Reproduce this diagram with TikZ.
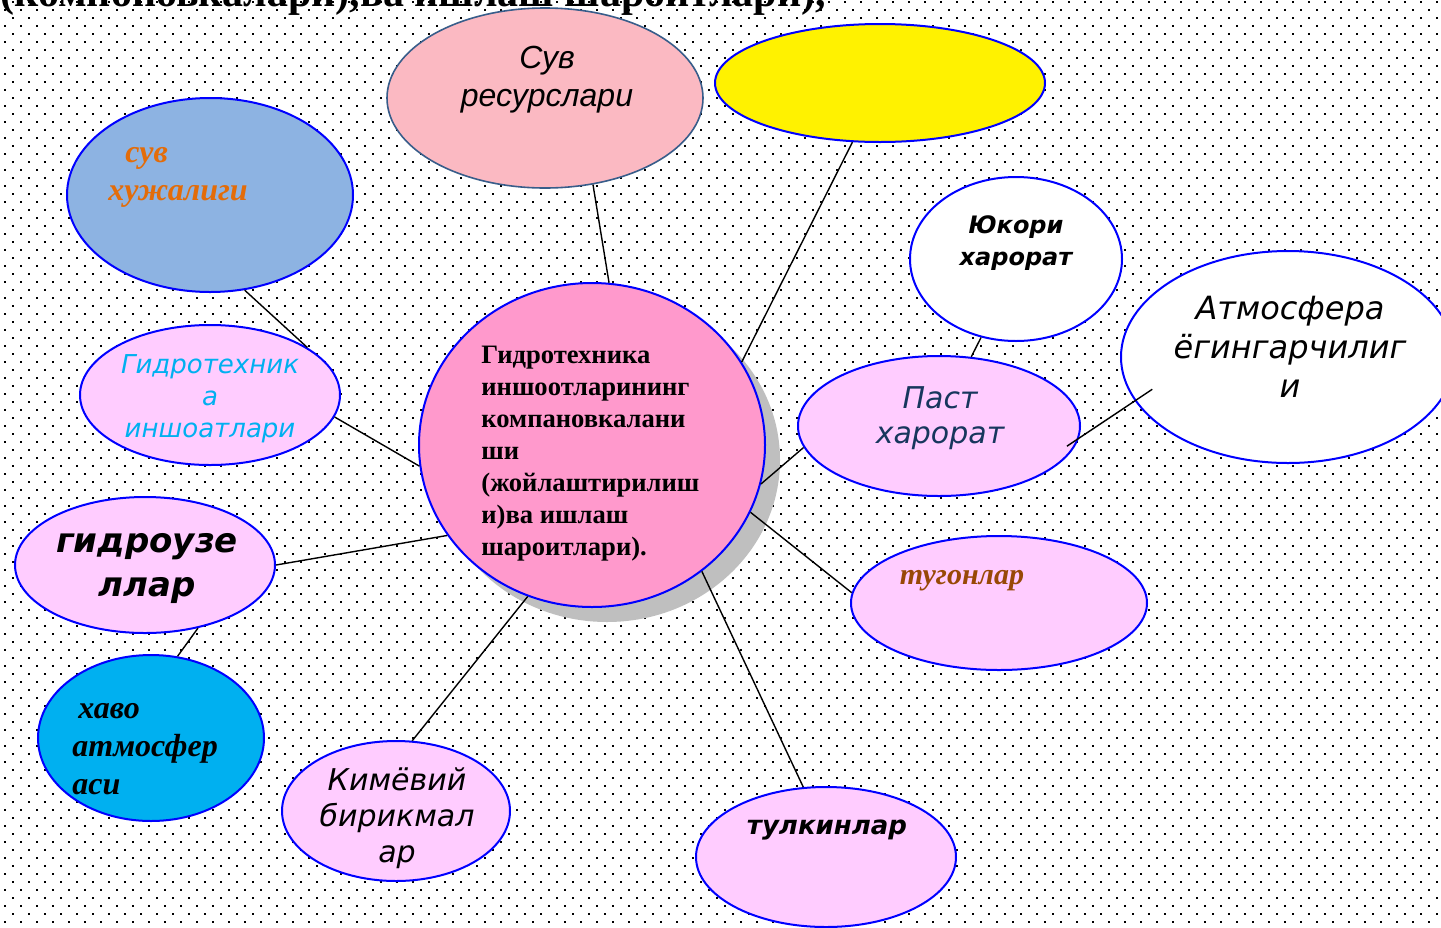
\documentclass[tikz,border=0pt]{standalone}
\usepackage{fontspec}
\setmainfont{Liberation Serif}
\setsansfont{DejaVu Sans}
\newfontfamily\arialfont{Liberation Sans}
\usetikzlibrary{shapes.geometric}
\usetikzlibrary{shadows}
\usepackage{xcolor}
\definecolor{cenpink}{RGB}{255,153,204}
\definecolor{respink}{RGB}{251,185,194}
\definecolor{resline}{RGB}{56,93,138}
\definecolor{suvblue}{RGB}{141,179,226}
\definecolor{lilac}{RGB}{255,204,255}
\definecolor{havoblue}{RGB}{0,176,240}
\definecolor{suvorange}{RGB}{227,108,9}
\definecolor{tugbrown}{RGB}{152,72,6}
\definecolor{pastnavy}{RGB}{23,54,93}

\begin{document}
\begin{tikzpicture}[x=0.5pt,y=-0.5pt,
bubble/.style={ellipse, draw=blue, line width=1pt, inner sep=0pt},
lilacbubble/.style={bubble, fill=lilac},
serifbi/.style={font=\fontsize{15}{19}\selectfont\bfseries\itshape, inner sep=0pt},
sansit/.style={font=\fontsize{15}{18}\selectfont\sffamily\itshape, inner sep=0pt, align=center},
dotrow/.style={draw=black, line width=0.9pt, dash pattern=on 0.9pt off 7.1pt},
link/.style={draw=black, line width=0.7pt}]
\useasboundingbox (0,0) rectangle (1441,927);
\clip (0,0) rectangle (1441,927);
\fill[white] (0,0) rectangle (1441,927);
\foreach \y in {2,18,...,930} \draw[dotrow] (12,\y) -- (1441,\y);
\foreach \y in {10,26,...,930} \draw[dotrow] (4,\y) -- (1441,\y);

\node[anchor=base west, inner sep=0pt, font=\fontsize{21}{24}\selectfont\bfseries] (ttl) at (0,6) {(компоновкалари),ва ишлаш шароитлари),};

\node[bubble, fill=cenpink, minimum width=173pt, minimum height=162pt,
  drop shadow={shadow xshift=7.5pt, shadow yshift=-7.5pt, fill=black!25, opacity=1}] (cen) at (592,445) {};
\node[bubble, fill=respink, draw=resline, line width=0.8pt, minimum width=158pt, minimum height=90pt] (res) at (545,98) {};
\node[bubble, fill=yellow, minimum width=165pt, minimum height=59pt] (yel) at (880,83) {};
\node[bubble, fill=suvblue, minimum width=143pt, minimum height=97pt] (suv) at (210,195) {};
\node[lilacbubble, minimum width=130pt, minimum height=70pt] (gid) at (210,395) {};
\node[lilacbubble, minimum width=130pt, minimum height=68pt] (uzel) at (145,565) {};
\node[bubble, fill=havoblue, minimum width=113pt, minimum height=83pt] (havo) at (151,738) {};
\node[lilacbubble, minimum width=114pt, minimum height=70pt] (kim) at (396,811) {};
\node[lilacbubble, minimum width=130pt, minimum height=70pt] (tul) at (826,857) {};
\node[lilacbubble, minimum width=148pt, minimum height=67pt] (tug) at (999,603) {};
\node[lilacbubble, minimum width=141pt, minimum height=70pt] (past) at (939,426) {};
\node[bubble, fill=white, minimum width=106pt, minimum height=82pt] (yuk) at (1016,259) {};
\node[bubble, fill=white, minimum width=167pt, minimum height=106pt] (atm) at (1288,357) {};

\node[anchor=north west, align=left, inner sep=0pt, font=\fontsize{13.3}{16}\selectfont\bfseries] (cen-t) at (481,346)
  {Гидротехника\\иншоотларининг\\компановкалани\\ши\\(жойлаштирилиш\\и)ва ишлаш\\шароитлари).};
\node[align=center, inner sep=0pt, font=\fontsize{16}{19}\selectfont\arialfont\itshape] (res-t) at (547,80) {Сув\\ресурслари};
\node[serifbi, font=\fontsize{16}{19}\selectfont\bfseries\itshape, text=suvorange, align=left, anchor=west] (suv-t) at (108,177) {\hspace{8.5pt}сув\\хужалиги};
\node[sansit, text=havoblue, font=\fontsize{13}{16}\selectfont\sffamily\itshape] (gid-t) at (210,399) {Гидротехник\\а\\иншоатлари};
\node[sansit, font=\fontsize{17}{22}\selectfont\sffamily\bfseries\itshape] (uzel-t) at (147,569) {гидроузе\\ллар};
\node[serifbi, font=\fontsize{16}{19}\selectfont\bfseries\itshape, align=left, anchor=west] (havo-t) at (72,749) {\hspace{3pt}хаво\\атмосфер\\аси};
\node[sansit] (kim-t) at (397,818) {Кимёвий\\бирикмал\\ар};
\node[sansit, font=\fontsize{13}{17}\selectfont\sffamily\bfseries\itshape] (tul-t) at (827,830) {тулкинлар};
\node[serifbi, text=tugbrown] (tug-t) at (962,581) {тугонлар};
\node[sansit, text=pastnavy, font=\fontsize{15}{17.5}\selectfont\sffamily\itshape] (past-t) at (940,418) {Паст\\харорат};
\node[sansit, font=\fontsize{12}{16}\selectfont\sffamily\bfseries\itshape] (yuk-t) at (1016,243) {Юкори\\харорат};
\node[sansit, font=\fontsize{16}{19.5}\selectfont\sffamily\itshape] (atm-t) at (1290,347) {Атмосфера\\ёгингарчилиг\\и};

\draw[link] (res.299) -- (cen.84);
\draw[link] (yel.245) -- (cen.29);
\draw[link] (suv.290) -- (gid.26);
\draw[link] (gid.350) -- (cen.187);
\draw[link] (uzel.0) -- (cen.212);
\draw[link] (uzel.310) -- (havo.72);
\draw[link] (kim.77) -- (cen.247);
\draw[link] (tul.108) -- (cen.311);
\draw[link] (tug.176) -- (cen.337);
\draw[link] (past.189) -- (cen.347);
\draw[link] (yuk.246) -- (past.65);
\draw[link, shorten <=-10.5pt, shorten >=-7.2pt] (atm.196) -- (past.355.5);
\end{tikzpicture}
\end{document}
